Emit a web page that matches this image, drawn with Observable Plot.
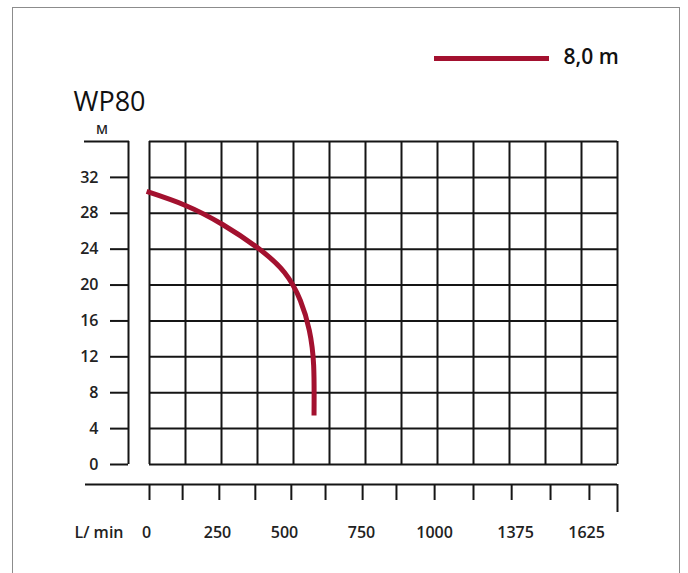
<!DOCTYPE html>
<html>
<head>
<meta charset="utf-8">
<script src="https://cdn.jsdelivr.net/npm/d3@7"></script>
<script src="https://cdn.jsdelivr.net/npm/@observablehq/plot@0.6"></script>
<style>
  html, body { margin: 0; padding: 0; background: #fff; }
  #wrap { position: relative; width: 688px; height: 573px; overflow: hidden; }
  #border { position: absolute; left: 12px; top: 7px; width: 668px; height: 620px;
            border: 1.5px solid #8c8c8c; box-sizing: border-box; pointer-events: none; }
</style>
</head>
<body>
<div id="wrap"><div id="border"></div></div>
<script>
// ---- data ----
const gridColumns = d3.range(0, 14);               // vertical grid lines (grid units)
const headTicks = [0, 4, 8, 12, 16, 20, 24, 28, 32]; // M
const headMax = 36;
const xAxisTicks = [0, 0.92, 1.94, 2.94, 3.94, 4.89, 5.92, 6.86, 7.92, 9.0, 10.06, 11.14, 12.22];
const xAxisEnd = 13;
const xLabels = ["0", "250", "500", "750", "1000", "1375", "1625"];
const xLabelPos = [-0.08, 1.89, 3.75, 5.89, 7.92, 10.17, 12.14];
const curveFlow = [-0.08, 1.0, 2.03, 3.03, 3.75, 4.19, 4.44, 4.56, 4.57];
const curveHead = [30.43, 28.87, 26.75, 24.07, 21.4, 18.28, 14.94, 11.03, 5.46];
const seriesName = "8,0 m";
const title = "WP80";
const unitY = "M";
const unitX = "L/ min";

const curve = curveFlow.map((x, i) => ({x, y: curveHead[i]}));

// ---- layout ----
const W = 688, H = 573;
const mL = 149, mR = 71, mT = 141, mB = 109;
const colPx = (W - mL - mR) / 13;
const gx = px => (px - mL) / colPx;       // pixel -> grid units (layout helper)
const red = "#a3112f";
const ink = "#151515";
const font = "'Open Sans', 'Noto Sans', sans-serif";

const chart = Plot.plot({
  width: W, height: H,
  marginLeft: mL, marginRight: mR, marginTop: mT, marginBottom: mB,
  x: {domain: [0, 13]},
  y: {domain: [0, headMax]},
  style: {fontFamily: font, background: "transparent", overflow: "visible", color: ink},
  marks: [
    // grid
    Plot.ruleX(gridColumns, {stroke: ink, strokeWidth: 2}),
    Plot.ruleY(d3.range(0, headMax + 1, 4), {stroke: ink, strokeWidth: 2}),
    // y axis (offset to the left)
    Plot.ruleX([0], {y1: 0, y2: headMax, dx: -21, stroke: ink, strokeWidth: 2}),
    Plot.ruleY([headMax], {x1: gx(84), x2: gx(129), stroke: ink, strokeWidth: 2}),
    Plot.axisY({ticks: headTicks, tickSize: 18, tickPadding: 12, dx: -21, label: null,
                fontSize: 16, fontWeight: 600, stroke: ink, strokeWidth: 2, fill: "#222"}),
    Plot.text([unitY], {frameAnchor: "top-left", dx: 101.5 - mL, dy: 129 - mT,
                        textAnchor: "middle", lineAnchor: "middle",
                        fontSize: 13, fontWeight: 600, fill: "#222"}),
    // x axis (offset below)
    Plot.ruleY([0], {x1: gx(85), x2: xAxisEnd, dy: 20, stroke: ink, strokeWidth: 2}),
    Plot.axisX({ticks: xAxisTicks, tickSize: 16, dy: 20, tickFormat: () => "", label: null,
                stroke: ink, strokeWidth: 2}),
    Plot.axisX({ticks: [xAxisEnd], tickSize: 28, dy: 20, tickFormat: () => "", label: null,
                stroke: ink, strokeWidth: 2}),
    Plot.text(xLabels, {x: (d, i) => xLabelPos[i], frameAnchor: "bottom", dy: 68,
                        lineAnchor: "middle", fontSize: 16, fontWeight: 600, fill: "#222"}),
    Plot.text([unitX], {frameAnchor: "bottom-left", dx: 98.5 - mL, dy: 68, textAnchor: "middle",
                        lineAnchor: "middle", fontSize: 16, fontWeight: 600, fill: "#222"}),
    // curve
    Plot.line(curve, {x: "x", y: "y", stroke: red, strokeWidth: 5, curve: "natural",
                      strokeLinecap: "butt"}),
    // legend
    Plot.ruleY([headMax], {x1: gx(434), x2: gx(549), dy: 58 - mT, stroke: red, strokeWidth: 5}),
    Plot.text([seriesName], {x: gx(563), frameAnchor: "top", dy: 57 - mT, textAnchor: "start",
                             lineAnchor: "middle", fontSize: 21, fontWeight: 600, fill: "#111"}),
    // title
    Plot.text([title], {frameAnchor: "top-left", dx: 73 - mL, dy: 102 - mT, textAnchor: "start",
                        lineAnchor: "middle", fontSize: 27, fontWeight: 400, fill: "#111"})
  ]
});
document.getElementById("wrap").appendChild(chart);
</script>
</body>
</html>
